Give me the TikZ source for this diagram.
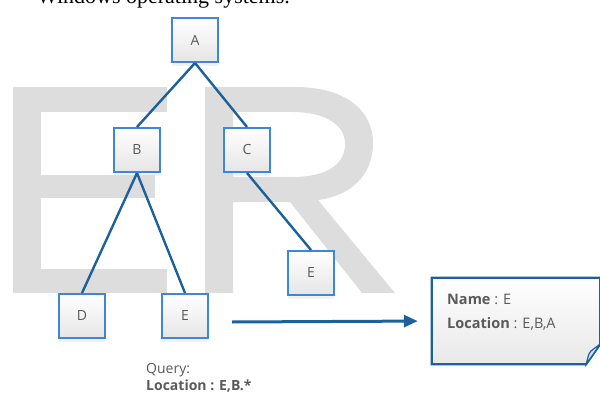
\documentclass[tikz,border=0pt]{standalone}
\usepackage{fontspec}
\setmainfont{Open Sans}
\newfontfamily\headfont{Liberation Serif}
\usetikzlibrary{arrows.meta,shadows}

\definecolor{wmgray}{RGB}{221,221,221}
\definecolor{boxblue}{RGB}{62,134,214}
\definecolor{linkblue}{RGB}{28,96,156}
\definecolor{txtgray}{RGB}{90,90,90}

\tikzset{
  treebox/.style={draw=boxblue, line width=2pt, minimum width=46pt, minimum height=44pt,
    top color=white, bottom color=gray!20, text=txtgray,
    font=\fontsize{14}{14}\selectfont,
    drop shadow={shadow xshift=0pt, shadow yshift=-4pt, fill=gray!30, opacity=.35}},
  link/.style={draw=linkblue, line width=2.4pt},
  pointer/.style={draw=linkblue, line width=3pt, -{Triangle[length=14pt,width=12pt]}},
  notebox/.style={draw=linkblue, line width=2.2pt, top color=white, bottom color=gray!18},
  flap/.style={draw=linkblue, line width=1.2pt, fill=boxblue!25},
  infotext/.style={text=txtgray, font=\fontsize{14.5}{24}\selectfont, align=left, inner sep=0pt}
}

\begin{document}
\begin{tikzpicture}[x=1pt,y=-1pt]
  \useasboundingbox (0,0) rectangle (600,401);

	% cut heading
	\node[anchor=base west, inner sep=0pt, font=\headfont\fontsize{22}{22}\selectfont] (heading) at (37,4) {Windows operating systems.};

	% watermark E
	\fill[wmgray] (13,87) rectangle (41,293);
	\fill[wmgray] (41,87) rectangle (167,112);
	\fill[wmgray] (41,175) rectangle (155,198);
	\fill[wmgray] (41,269) rectangle (167,293);
	% watermark R
	\fill[wmgray, even odd rule] (205,293) -- (205,87) -- (295,87)
	    .. controls (345,87) and (373,110) .. (373,143)
	    .. controls (373,176) and (350,196) .. (318,200) -- (395,293) -- (362,293)
	    -- (290,202) -- (233,202) -- (233,293) -- cycle
	  (233,112) -- (292,112) .. controls (326,112) and (345,125) .. (345,144)
	    .. controls (345,165) and (326,177) .. (292,177) -- (233,177) -- cycle;

	% tree
	\node[treebox] (A) at (195,40) {A};
	\node[treebox] (B) at (137,150) {B};
	\node[treebox] (C) at (247,150) {C};
	\node[treebox] (D) at (82,316) {D};
	\node[treebox] (E1) at (185,316) {E};
	\node[treebox] (E2) at (311,273) {E};

	\draw[link] (A.south) -- (B.north);
	\draw[link] (A.south) -- (C.north);
	\draw[link] (B.south) -- (D.north);
	\draw[link] (B.south) -- (E1.north);
	\draw[link] (C.south) -- (E2.north);

	% query
	\node[infotext, font=\fontsize{14}{17}\selectfont, anchor=north west] (query) at (146,363) {Query:\\\textbf{Location : E,B.*}};

	% result note
	\node[minimum width=168pt, minimum height=86pt, inner sep=0pt] (note) at (516,321) {};
	\path[notebox] (note.north west) -- (note.north east) -- ([yshift=20pt]note.south east)
	  -- ([xshift=-14pt]note.south east) -- (note.south west) -- cycle;
	\filldraw[flap] ([xshift=-14pt]note.south east) .. controls ([xshift=-11pt,yshift=12pt]note.south east)
	  .. ([xshift=-7pt,yshift=15pt]note.south east) -- ([yshift=20pt]note.south east) -- cycle;
	\node[infotext, anchor=north west] (notetxt) at (447,294) {\textbf{Name} : E\\\textbf{Location} : E,B,A};

	\coordinate (qpoint) at (232,322);
	\draw[pointer, shorten >=14pt] (qpoint) -- (note.west);

\end{tikzpicture}
\end{document}
